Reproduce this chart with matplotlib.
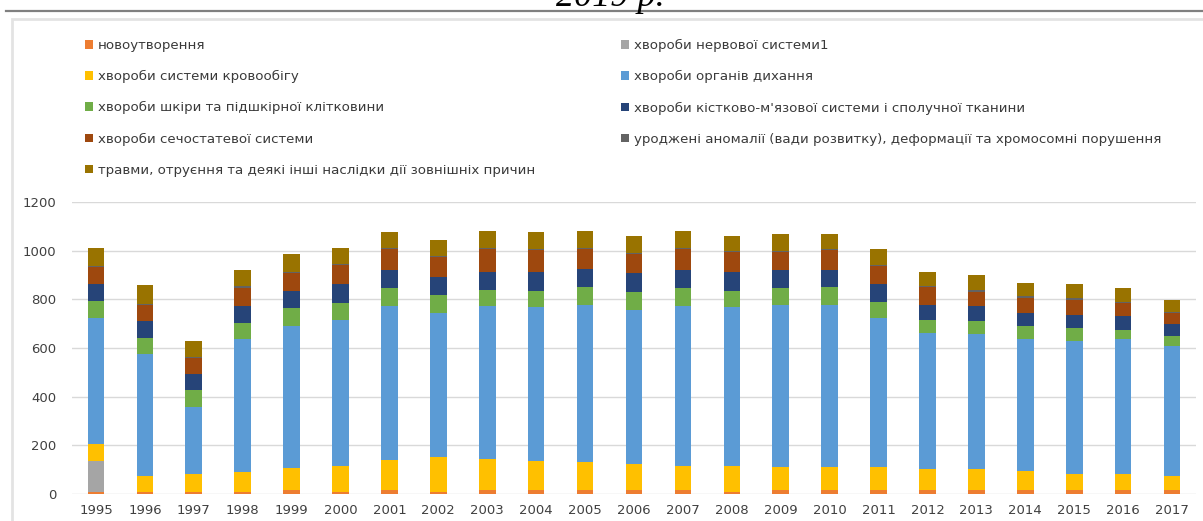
import matplotlib
matplotlib.use("Agg")
from matplotlib import pyplot as plt
from matplotlib.patches import Patch, Rectangle
from matplotlib.lines import Line2D
import numpy as np

years = [str(y) for y in range(1995, 2018)]

labels = ["новоутворення",
          "хвороби нервової системи1",
          "хвороби системи кровообігу",
          "хвороби органів дихання",
          "хвороби шкіри та підшкірної клітковини",
          "хвороби кістково-м'язової системи і сполучної тканини",
          "хвороби сечостатевої системи",
          "уроджені аномалії (вади розвитку), деформації та хромосомні порушення",
          "травми, отруєння та деякі інші наслідки дії зовнішніх причин"]

colors = ["#ED7D31", "#A5A5A5", "#FFC000", "#5B9BD5", "#70AD47",
          "#264478", "#9E480E", "#636363", "#997300"]

neo = [10, 10, 10, 10, 16, 10, 16, 10, 16, 16, 16, 16, 16, 10, 16, 16, 16, 16, 16, 16, 16, 16, 16]
nerve = [127, 0, 0, 0, 0, 0, 0, 0, 0, 0, 0, 0, 0, 0, 0, 0, 0, 0, 0, 0, 0, 0, 0]
circ = [69, 65, 72, 79, 92, 107, 123, 141, 128, 121, 114, 107, 101, 107, 94, 94, 94, 87, 87, 80, 66, 66, 59]
resp = [517, 500, 276, 546, 583, 600, 632, 592, 627, 631, 648, 634, 654, 651, 668, 668, 614, 557, 554, 539, 546, 553, 534]
skin = [72, 68, 68, 67, 73, 67, 74, 74, 67, 67, 74, 74, 74, 67, 67, 74, 67, 57, 53, 55, 55, 41, 41]
musc = [69, 66, 66, 69, 71, 81, 74, 74, 74, 77, 74, 77, 74, 77, 74, 67, 74, 61, 61, 55, 53, 55, 47]
uro = [69, 69, 66, 75, 73, 76, 88, 85, 95, 89, 82, 79, 88, 82, 75, 82, 74, 71, 61, 60, 62, 53, 46]
congen = [2, 3, 3, 7, 5, 5, 6, 4, 4, 6, 4, 4, 4, 4, 4, 4, 4, 4, 7, 7, 7, 7, 4]
trauma = [76, 76, 68, 67, 73, 67, 64, 65, 68, 68, 67, 70, 68, 63, 72, 65, 64, 60, 61, 57, 60, 54, 51]

series = [neo, nerve, circ, resp, skin, musc, uro, congen, trauma]

W, H = 1203, 521
fig = plt.figure(figsize=(W / 100, H / 100), dpi=100)

# page bits around the chart: title cut off at the top and a rule
fig.text(610 / W, 1 - 6 / H, "2019 р.", fontsize=26, family="Liberation Serif",
         style="italic", ha="center", va="baseline", color="black")
fig.add_artist(Line2D([6 / W, 1], [1 - 11 / H, 1 - 11 / H], color="#808080", lw=1.6))
fig.add_artist(Rectangle((12 / W, -0.1), 1.2, 1 - 19 / H + 0.1, fill=False,
                         edgecolor="#e3e3e3", lw=2))

ax = fig.add_axes([72 / W, 27 / H, 1124 / W, 292 / H])
x = np.arange(len(years))
bottom = np.zeros(len(years))
for vals, lab, col in zip(series, labels, colors):
    ax.bar(x, vals, 0.34, bottom=bottom, color=col, label=lab, linewidth=0)
    bottom += np.array(vals)

ax.set_xlim(-0.49, len(years) - 0.51)
ax.set_ylim(0, 1200)
ax.set_yticks(range(0, 1201, 200))
ax.set_xticks(x)
ax.set_xticklabels(years)
ax.grid(axis="y", color="#d9d9d9", lw=1)
ax.set_axisbelow(True)
for s in ax.spines.values():
    s.set_visible(False)
ax.tick_params(axis="both", length=0, labelsize=9.5, labelcolor="#404040")
ax.tick_params(axis="y", pad=11.5)
ax.tick_params(axis="x", pad=7)

# legend in two columns, filled row by row like the original
handles = [Patch(facecolor=c, edgecolor="none") for c in colors]
kw = dict(loc="upper left", frameon=False, fontsize=9.6, borderpad=0, borderaxespad=0,
          handlelength=0.6, handleheight=0.6, handletextpad=0.38, labelspacing=1.36,
          labelcolor="#3a3a3a", bbox_transform=fig.transFigure)
fig.legend(handles[0::2], labels[0::2], bbox_to_anchor=(85 / W, 1 - 39 / H), **kw)
fig.legend(handles[1::2], labels[1::2], bbox_to_anchor=(621 / W, 1 - 39 / H), **kw)

fig.savefig("out.png", dpi=100)
